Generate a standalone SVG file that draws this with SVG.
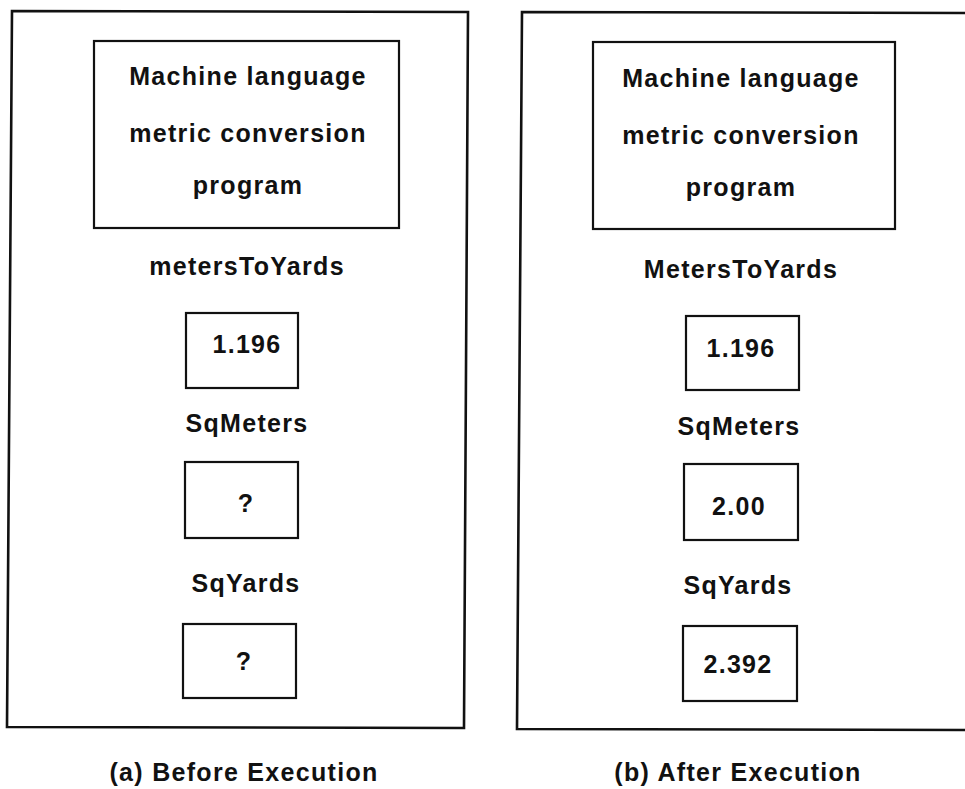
<svg xmlns="http://www.w3.org/2000/svg" width="965" height="789" viewBox="0 0 965 789">
<style>
.frame{fill:none;stroke:#111;stroke-width:2.6;stroke-linejoin:miter}
.box{fill:none;stroke:#111;stroke-width:2.2}
.t{font-family:"Liberation Sans",Arial,Helvetica,sans-serif;font-size:25px;font-weight:bold;letter-spacing:1.3px;fill:#111;text-anchor:middle}
</style>
<rect width="965" height="789" fill="#fff"/>
<g id="panel-a">
  <path class="frame" d="M12,11 L468,12 L464,728 L7,727 Z"/>
  <g id="a-program">
    <rect class="box" x="94" y="41" width="305" height="187"/>
    <text class="t" x="248" y="85">Machine language</text>
    <text class="t" x="248" y="142">metric conversion</text>
    <text class="t" x="248" y="194">program</text>
  </g>
  <g id="a-metersToYards">
    <text class="t" x="247" y="275">metersToYards</text>
    <rect class="box" x="186" y="313" width="112" height="75"/>
    <text class="t" x="247" y="353">1.196</text>
  </g>
  <g id="a-SqMeters">
    <text class="t" x="247" y="432">SqMeters</text>
    <rect class="box" x="185" y="462" width="113" height="76"/>
    <text class="t" x="246" y="512">?</text>
  </g>
  <g id="a-SqYards">
    <text class="t" x="246" y="592">SqYards</text>
    <rect class="box" x="183" y="624" width="113" height="74"/>
    <text class="t" x="244" y="670">?</text>
  </g>
  <text class="t" x="244" y="781">(a) Before Execution</text>
</g>
<g id="panel-b">
  <path class="frame" d="M967,13 L522,12 L517,729 L967,730"/>
  <g id="b-program">
    <rect class="box" x="593" y="42" width="302" height="187"/>
    <text class="t" x="741" y="87">Machine language</text>
    <text class="t" x="741" y="144">metric conversion</text>
    <text class="t" x="741" y="196">program</text>
  </g>
  <g id="b-MetersToYards">
    <text class="t" x="741" y="278">MetersToYards</text>
    <rect class="box" x="686" y="316" width="113" height="74"/>
    <text class="t" x="741" y="357">1.196</text>
  </g>
  <g id="b-SqMeters">
    <text class="t" x="739" y="435">SqMeters</text>
    <rect class="box" x="684" y="464" width="114" height="76"/>
    <text class="t" x="739" y="515">2.00</text>
  </g>
  <g id="b-SqYards">
    <text class="t" x="738" y="594">SqYards</text>
    <rect class="box" x="683" y="626" width="114" height="75"/>
    <text class="t" x="738" y="673">2.392</text>
  </g>
  <text class="t" x="738" y="781">(b) After Execution</text>
</g>
<g id="connectors"></g>
</svg>
